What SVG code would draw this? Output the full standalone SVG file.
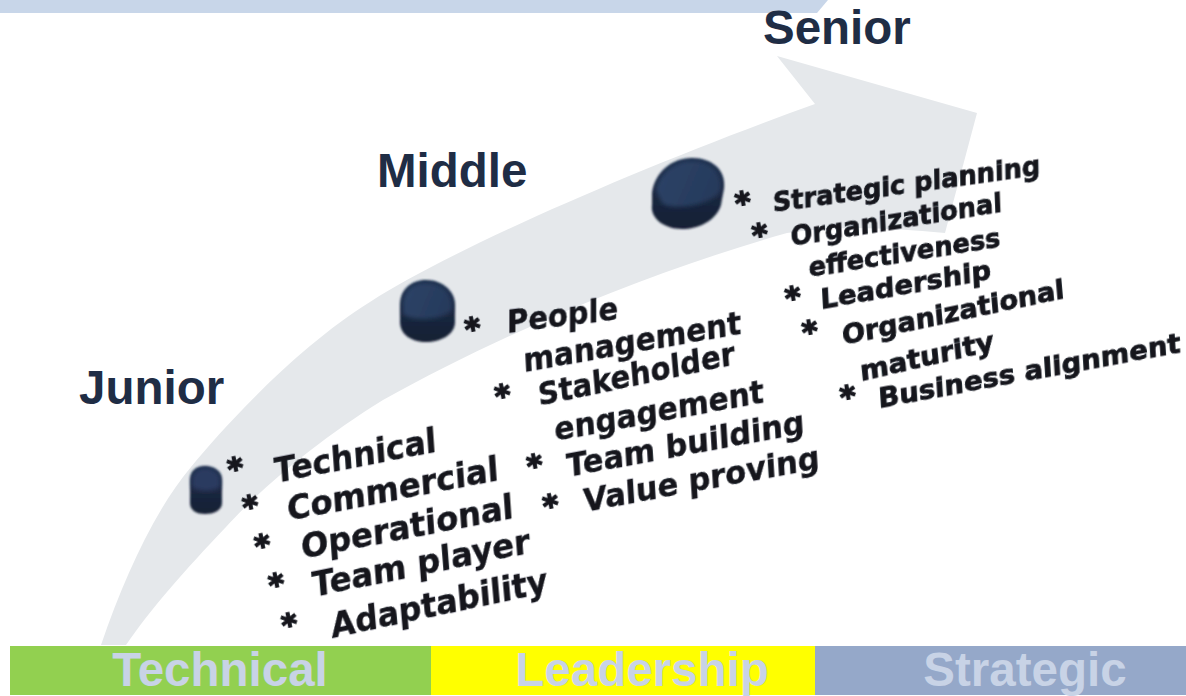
<svg xmlns="http://www.w3.org/2000/svg" width="1186" height="696" viewBox="0 0 1186 696">
<style>
.h{font:bold 47.5px "Liberation Sans",Arial,sans-serif;fill:#1f2d45}
.b{font:bold 47.5px "Liberation Sans",Arial,sans-serif;fill:#c8d3e6;text-anchor:middle}
.t{font-family:"DejaVu Sans",Verdana,sans-serif;font-weight:bold;fill:#14161f;stroke:#14161f;stroke-width:.4;filter:url(#s)}
.a{font-size:34px}
.u{font-size:31px}
.m{font-size:27px;stroke-width:.8}
.k{font-family:"DejaVu Sans",Verdana,sans-serif;font-weight:bold;font-size:30px;fill:#14161f;stroke:#14161f;stroke-width:1.6;filter:url(#s)}
</style>
<defs>
<filter id="s" x="-5%" y="-30%" width="110%" height="160%"><feGaussianBlur stdDeviation="0.5"/></filter>
<filter id="c" x="-20%" y="-20%" width="140%" height="140%"><feGaussianBlur stdDeviation="0.8"/></filter>
<filter id="d" x="-20%" y="-20%" width="140%" height="140%"><feGaussianBlur stdDeviation="2.2"/></filter>
<linearGradient id="top" x1="0" y1="0" x2="1" y2="0.3"><stop offset="0" stop-color="#2d4468"/><stop offset="1" stop-color="#263a5c"/></linearGradient>
<linearGradient id="side" x1="0" y1="0" x2="0" y2="1"><stop offset="0" stop-color="#1f304e"/><stop offset="1" stop-color="#161f33"/></linearGradient>
</defs>
<rect width="1186" height="696" fill="#fff"/>
<path id="banner" d="M0 0H828L817 13H0Z" fill="#c8d6e9"/>
<path id="arrow" d="M101 645C125 575 155 510 191 467C225 425 300 345 370 302C450 250 640 167 815 104L777 56L977 113L945 233C890 228 840 225 787 233C640 275 500 335 383 400C310 445 255 495 226 527C185 570 150 610 126 645Z" fill="#e5e8eb"/>
<g id="junior">
<path d="M190 480C190 471 196 466 205 466C214 466 222 471 222 480V503C222 510 214 514 205 514C196 514 190 510 190 503Z" fill="url(#side)" filter="url(#c)"/>
<path d="M192 480C192 473 198 468 205 468C213 468 220 473 220 480V487C214 492 198 492 192 487Z" fill="#2a3a60" filter="url(#d)"/>
<text class="h" x="79" y="404">Junior</text>
<g transform="translate(230 480) rotate(-11)"><text class="k">*</text></g>
<g transform="translate(245 518) rotate(-11)"><text class="k">*</text></g>
<g transform="translate(257 557) rotate(-11)"><text class="k">*</text></g>
<g transform="translate(271 596) rotate(-11)"><text class="k">*</text></g>
<g transform="translate(284 636) rotate(-11)"><text class="k">*</text></g>
<text class="t a" transform="translate(275 483) rotate(-11) skewX(-7)" textLength="165" lengthAdjust="spacingAndGlyphs">Technical</text>
<text class="t a" transform="translate(288 521) rotate(-11) skewX(-7)" textLength="215" lengthAdjust="spacingAndGlyphs">Commercial</text>
<text class="t a" transform="translate(302 559) rotate(-11) skewX(-7)" textLength="216" lengthAdjust="spacingAndGlyphs">Operational</text>
<text class="t a" transform="translate(313 597) rotate(-11.5) skewX(-7)" textLength="222" lengthAdjust="spacingAndGlyphs">Team player</text>
<text class="t a" transform="translate(332 638) rotate(-12) skewX(-7)" textLength="221" lengthAdjust="spacingAndGlyphs">Adaptability</text>
</g>
<g id="middle">
<path d="M400 305C400 289 412 280 426 280C442 280 455 291 455 305V322C455 335 440 342 426 342C412 342 400 335 400 322Z" fill="url(#side)" filter="url(#c)"/>
<path d="M403 305C403 291 412 283 426 283C440 283 452 292 452 305V310C445 320 412 322 403 314Z" fill="url(#top)" filter="url(#d)"/>
<text class="h" x="377" y="187">Middle</text>
<g transform="translate(467 340) rotate(-10)"><text class="k">*</text></g>
<g transform="translate(497 407) rotate(-10)"><text class="k">*</text></g>
<g transform="translate(529 477) rotate(-10)"><text class="k">*</text></g>
<g transform="translate(545 517) rotate(-10)"><text class="k">*</text></g>
<text class="t u" transform="translate(507 333) rotate(-7) skewX(-7)" textLength="112" lengthAdjust="spacingAndGlyphs">People</text>
<text class="t u" transform="translate(524 372) rotate(-10) skewX(-7)" textLength="221" lengthAdjust="spacingAndGlyphs">management</text>
<text class="t u" transform="translate(539 406) rotate(-12) skewX(-7)" textLength="201" lengthAdjust="spacingAndGlyphs">Stakeholder</text>
<text class="t u" transform="translate(555 441) rotate(-10.5) skewX(-7)" textLength="213" lengthAdjust="spacingAndGlyphs">engagement</text>
<text class="t u" transform="translate(567 477) rotate(-10.5) skewX(-7)" textLength="242" lengthAdjust="spacingAndGlyphs">Team building</text>
<text class="t u" transform="translate(584 512) rotate(-10.5) skewX(-7)" textLength="240" lengthAdjust="spacingAndGlyphs">Value proving</text>
</g>
<g id="senior">
<path d="M652 193C655 172 672 158 692 158C712 158 726 170 724 188L721 205C716 221 698 229 682 229C664 229 650 218 652 205Z" fill="url(#side)" filter="url(#c)"/>
<path d="M656 190C659 174 674 161 692 161C710 161 722 172 721 188L720 192C712 204 674 212 662 203Z" fill="url(#top)" filter="url(#d)"/>
<text class="h" x="763" y="44">Senior</text>
<g transform="translate(737 214) rotate(-9)"><text class="k">*</text></g>
<g transform="translate(754 246) rotate(-9)"><text class="k">*</text></g>
<g transform="translate(787 309) rotate(-9)"><text class="k">*</text></g>
<g transform="translate(804 343) rotate(-9)"><text class="k">*</text></g>
<g transform="translate(842 408) rotate(-9)"><text class="k">*</text></g>
<text class="t m" transform="translate(773 212) rotate(-8) skewX(-7)" textLength="270" lengthAdjust="spacingAndGlyphs">Strategic planning</text>
<text class="t m" transform="translate(791 246) rotate(-9.3) skewX(-7)" textLength="214" lengthAdjust="spacingAndGlyphs">Organizational</text>
<text class="t m" transform="translate(809 277) rotate(-9) skewX(-7)" textLength="194" lengthAdjust="spacingAndGlyphs">effectiveness</text>
<text class="t m" transform="translate(821 309) rotate(-10) skewX(-7)" textLength="173" lengthAdjust="spacingAndGlyphs">Leadership</text>
<text class="t m" transform="translate(843 345) rotate(-12) skewX(-7)" textLength="227" lengthAdjust="spacingAndGlyphs">Organizational</text>
<text class="t m" transform="translate(861 381) rotate(-13) skewX(-7)" textLength="137" lengthAdjust="spacingAndGlyphs">maturity</text>
<text class="t m" transform="translate(879 408) rotate(-10.5) skewX(-7)" textLength="307" lengthAdjust="spacingAndGlyphs">Business alignment</text>
</g>
<g id="bars">
<rect x="10" y="646" width="421" height="49" fill="#92d050"/>
<rect x="431" y="646" width="384" height="49" fill="#ffff00"/>
<rect x="815" y="646" width="371" height="49" fill="#95a8c9"/>
<text class="b" x="220" y="686">Technical</text>
<text class="b" x="642" y="686">Leadership</text>
<text class="b" x="1025" y="686">Strategic</text>
</g>
</svg>
